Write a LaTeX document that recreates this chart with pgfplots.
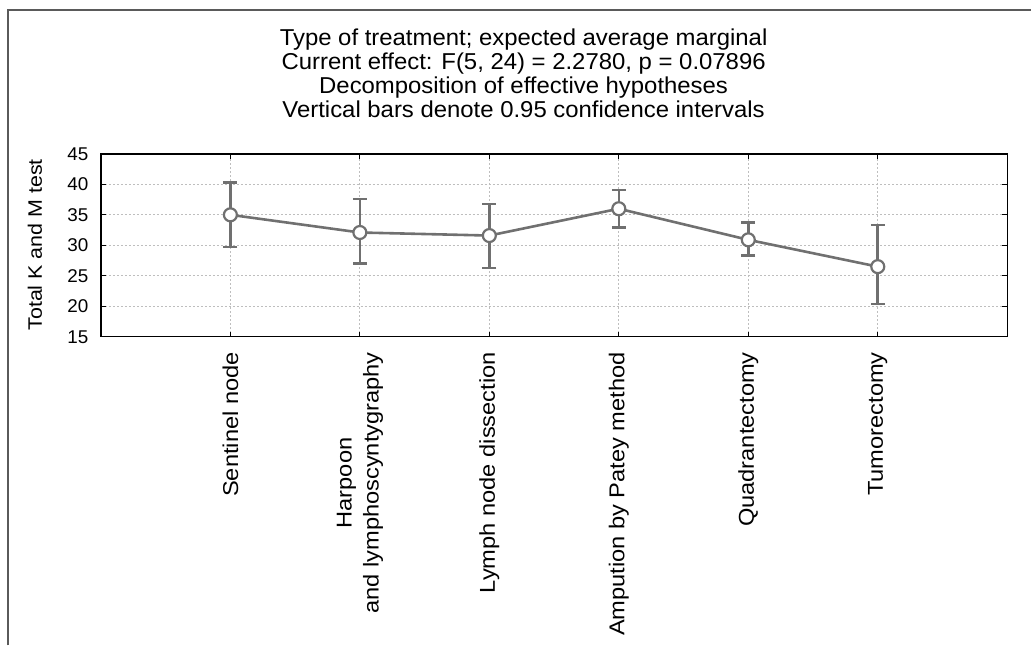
\documentclass[border=0pt]{standalone}
\usepackage{pgfplots}
\pgfplotsset{compat=1.18}
\usepackage{fontspec}
\setmainfont{Liberation Sans}
\newfontfamily\titlef[FakeStretch=1.04]{Liberation Sans}
\newfontfamily\tickf[FakeStretch=1.02]{Liberation Sans}
\newfontfamily\rotf[FakeStretch=1.1]{Liberation Sans}
\definecolor{ln}{RGB}{112,112,112}
\definecolor{gridc}{RGB}{190,190,190}
\begin{document}
\begin{tikzpicture}[x=1bp,y=1bp]
\path (0,0) rectangle (1032,646);
\draw[line width=1.6bp, color={rgb,255:red,90;green,90;blue,90}] (8,0) -- (8,636) -- (1032,636);
\node[align=center, font=\titlef\fontsize{23bp}{24bp}\selectfont] at (524,573)
 {Type of treatment; expected average marginal\\
  Current effect: F(5, 24) = 2.2780, p = 0.07896\\
  Decomposition of effective hypotheses\\
  Vertical bars denote 0.95 confidence intervals};
\node[rotate=90, font=\rotf\fontsize{19.5bp}{22bp}\selectfont] at (35,401) {Total K and M test};
\begin{axis}[
  at={(101bp,309bp)}, anchor=south west,
  scale only axis, width=907bp, height=183bp,
  xmin=-1, xmax=6, ymin=15, ymax=45,
  xtick={0,1,2,3,4,5},
  xticklabels={Sentinel node, Harpoon\\and lymphoscyntygraphy, Lymph node dissection, Ampution by Patey method, Quadrantectomy, Tumorectomy},
  ytick={15,20,...,45},
  x tick label style={rotate=90, anchor=east, align=center, font=\rotf\fontsize{21.5bp}{27bp}\selectfont},
  y tick label style={font=\tickf\fontsize{18.5bp}{20bp}\selectfont},
  /pgf/number format/assume math mode=true,
  xticklabel shift=12bp,
  yticklabel shift=9bp,
  grid=major,
  major grid style={gridc, dash pattern=on 2bp off 2bp, line width=0.8bp},
  axis line style={line width=1.4bp, black},
  tick style={line width=1.2bp, black},
  tick align=inside,
  major tick length=5bp,
  xtick pos=both, ytick pos=both,
  clip=false,
]
\addplot[ln, line width=2.6bp, mark=*, mark size=6.5bp,
  mark options={fill=white, draw=ln, line width=2.2bp},
  error bars/.cd, y dir=both, y explicit,
  error bar style={line width=2.6bp, ln},
  error mark options={rotate=90, mark size=7bp, line width=2.6bp, ln}]
table[x=x, y=y, y error plus=ep, y error minus=em] {
x y ep em
0 35.0 5.3 5.25
1 32.1 5.5 5.1
2 31.6 5.2 5.3
3 36.0 3.1 3.1
4 30.9 2.8 2.6
5 26.5 6.8 6.1
};
\end{axis}
\end{tikzpicture}
\end{document}
